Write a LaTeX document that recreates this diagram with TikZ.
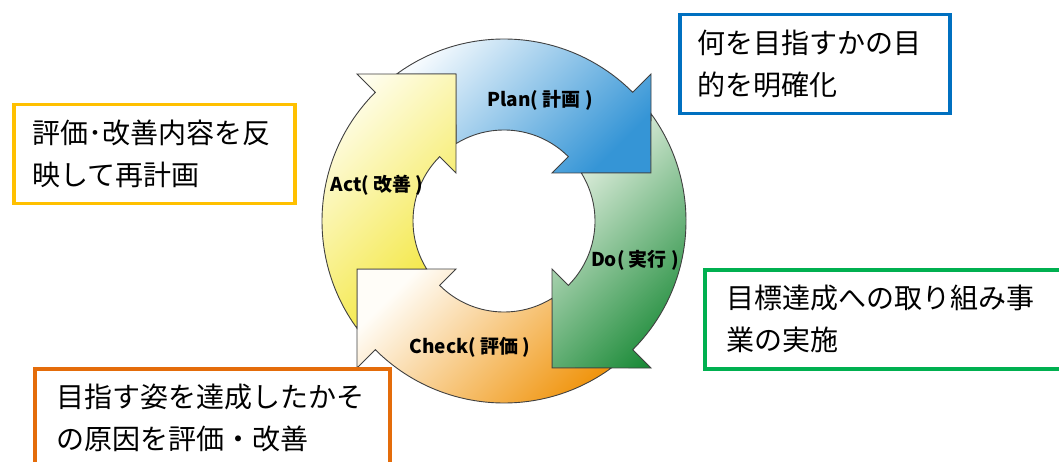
\documentclass[tikz,border=0pt]{standalone}
\usepackage{fontspec}
\setmainfont{Noto Sans CJK JP}
\definecolor{planlight}{HTML}{F7FBFE}
\definecolor{plandark}{HTML}{3595D6}
\definecolor{dolight}{HTML}{EEF5EA}
\definecolor{dodark}{HTML}{1A8A37}
\definecolor{checklight}{HTML}{FFFDF8}
\definecolor{checkdark}{HTML}{F0950F}
\definecolor{actlight}{HTML}{FFFEF2}
\definecolor{actdark}{HTML}{F3E63A}
\definecolor{boxblue}{HTML}{0070C0}
\definecolor{boxyellow}{HTML}{FFC000}
\definecolor{boxgreen}{HTML}{00B050}
\definecolor{boxorange}{HTML}{E46C0A}
\begin{document}
\begin{tikzpicture}[x=1pt,y=1pt,
  ringarrow/.style={draw=black!75,line width=0.9pt},
  steplabel/.style={font=\fontsize{19}{22}\selectfont\bfseries,inner sep=0pt},
  notebox/.style={draw,line width=3.5pt,anchor=north west,minimum height=99pt,
    align=left,font=\fontsize{28}{42}\selectfont}
  ]
\useasboundingbox (0,0) rectangle (1059,461);
\clip (0,0) rectangle (1059,461);

% ring of four arrows
\foreach \o/\lc/\dc in {0/planlight/plandark,-90/dolight/dodark,-180/checklight/checkdark,-270/actlight/actdark}
  \draw[ringarrow,shift={(504,240)},top color=\lc,bottom color=\dc,shading angle=45]
    (\o+126.1:182pt) arc[start angle=\o+126.1,end angle=\o+45,radius=182pt]
    -- (\o+45:207.9pt) -- (\o+18.08:154.6pt) -- (\o+45:67.9pt) -- (\o+45:91pt)
    arc[start angle=\o+45,end angle=\o+121.8,radius=91pt]
    -- (\o+108.08:154.6pt) -- cycle;

\node[steplabel] (plan) at (540,361) {Plan( 計画 )};
\node[steplabel] (do) at (635,201) {Do( 実行 )};
\node[steplabel] (check) at (470,114) {Check( 評価 )};
\node[steplabel] (act) at (377,276) {Act( 改善 )};

% notes
\node[notebox,draw=boxblue,inner xsep=18pt,text width=234pt] (goalbox) at (678,448)
  {何を目指すかの目\\的を明確化};
\node[notebox,draw=boxyellow,inner xsep=19pt,text width=243pt] (actbox) at (12,358)
  {評価･改善内容を反\\映して再計画};
\node[notebox,draw=boxgreen,inner xsep=22pt,text width=328pt] (dobox) at (703,193)
  {目標達成への取り組み事\\業の実施};
\node[notebox,draw=boxorange,inner xsep=22pt,text width=311pt] (checkbox) at (33,94)
  {目指す姿を達成したかそ\\の原因を評価・改善};
\end{tikzpicture}
\end{document}
